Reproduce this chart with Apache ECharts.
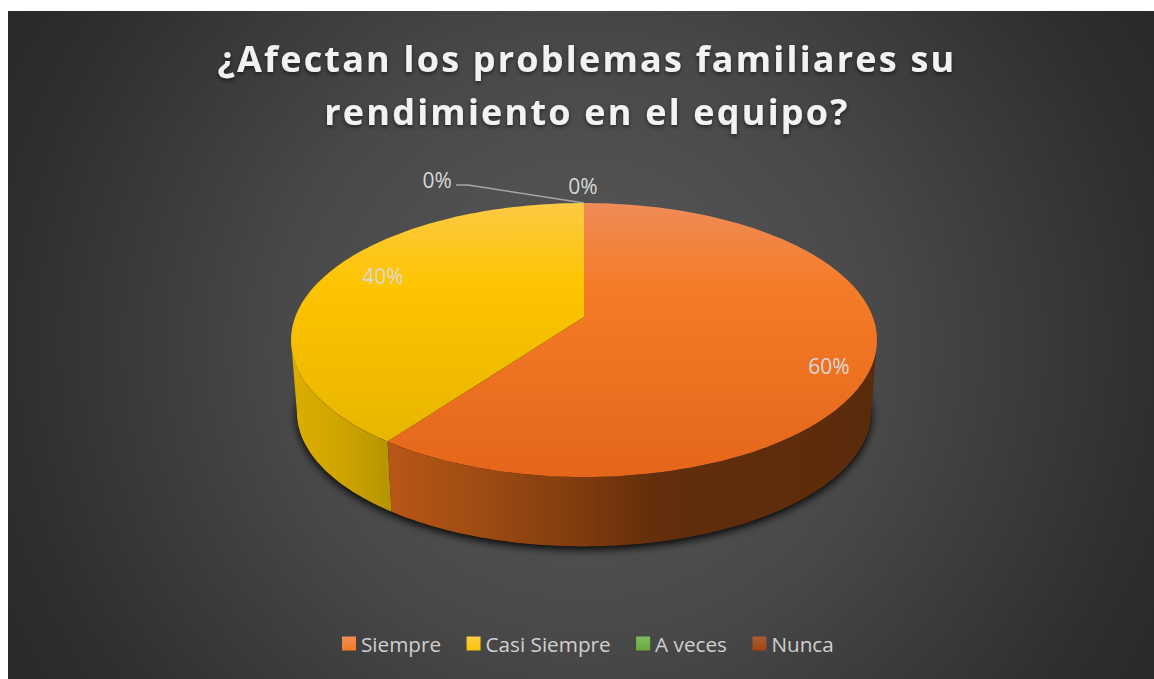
<!DOCTYPE html>
<html lang="es">
<head>
<meta charset="utf-8">
<title>Rendimiento en el equipo</title>
<script src="https://cdn.jsdelivr.net/npm/echarts@6/dist/echarts.min.js"></script>
<style>
  html, body { margin: 0; padding: 0; background: #fff; }
  #chart { width: 1154px; height: 679px; }
  /* The heading is the only bold text and is tracked out */
  svg text[style*="bold"] { letter-spacing: 2.2px; }
</style>
</head>
<body>
<div id="chart"></div>
<script>
const titleText = '¿Afectan los problemas familiares su\nrendimiento en el equipo?';
const categories = ['Siempre', 'Casi Siempre', 'A veces', 'Nunca'];
const values = [60, 40, 0, 0];

const legendFills = [
  ['#f08c58', '#f47a26'],
  ['#fdcb47', '#fdc400'],
  ['#82bb62', '#69a73c'],
  ['#ab5c36', '#a2440f']
];
const topFaceStops = [
  [[0, '#ef8c58'], [0.3, '#f47c28'], [1, '#e5661a']],
  [[0, '#fdca45'], [0.3, '#fdc400'], [1, '#e3b200']],
  [[0, '#82bb62'], [1, '#69a73c']],
  [[0, '#ab5c36'], [1, '#a2440f']]
];
const sideStops = [
  [[0, '#b85717'], [0.2, '#9c4b12'], [0.42, '#7b390c'], [0.55, '#622e0c'], [1, '#5a2b0b']],
  [[0, '#dcae00'], [0.5, '#cfa400'], [1, '#b59400']],
  [[0, '#69a73c'], [1, '#4f7e2d']],
  [[0, '#a2440f'], [1, '#5a2b0b']]
];
// Label anchors in disc coordinates, x to the right and y toward the viewer
const labelSpots = [[0.799, 0.347], [-0.734, -0.325], [-0.615, -1.244], [-0.004, -1.179]];

// Disc seen in perspective: a unit circle through a projective map
const view = { cx: 584, cy: 317, a: 288.8, b: 133.1, k: 0.168, wallCy: 389.6, wallScale: 0.98 };

function project(deg, lower) {
  const t = deg * Math.PI / 180;
  return discPoint(Math.sin(t), -Math.cos(t), lower);
}
function discPoint(u, v, lower) {
  const s = lower ? view.wallScale : 1;
  const d = 1 - view.k * v;
  return [view.cx + s * view.a * u / d, (lower ? view.wallCy : view.cy) + s * view.b * v / d];
}
function arc(from, to, lower) {
  const n = Math.max(2, Math.ceil(Math.abs(to - from) / 1.5));
  const pts = [];
  for (let i = 0; i <= n; i++) pts.push(project(from + (to - from) * i / n, lower));
  return pts;
}

const total = values.reduce((a, b) => a + b, 0);
const sliceStart = values.map((_, i) => values.slice(0, i).reduce((a, b) => a + b, 0) / total * 360);
// The outline of the disc is widest where the viewing ray grazes it
const silhouette = Math.acos(-view.k) * 180 / Math.PI;

function renderSlice(index) {
  return function () {
    const kids = [];
    const start = sliceStart[index];
    const end = start + values[index] / total * 360;
    if (index === 0) {
      kids.push({
        type: 'polygon', shape: { points: arc(0, 360, true) },
        style: { fill: '#111', shadowBlur: 9, shadowColor: 'rgba(0,0,0,0.95)', shadowOffsetY: 3 }
      });
    }
    if (values[index] > 0) {
      // Only the part of the wall facing the viewer is drawn
      const wallFrom = Math.max(start, silhouette);
      const wallTo = Math.min(end, 360 - silhouette);
      if (wallTo > wallFrom) {
        const upper = arc(wallFrom, wallTo, false);
        const lower = arc(wallTo, wallFrom, true);
        const xs = upper.concat(lower).map(p => p[0]);
        const stops = sideStops[index].map(s => ({ offset: s[0], color: s[1] }));
        kids.push({
          type: 'polygon', shape: { points: upper.concat(lower) },
          style: { fill: new echarts.graphic.LinearGradient(Math.min(...xs), 0, Math.max(...xs), 0, stops, true) }
        });
      }
      const face = [[view.cx, view.cy]].concat(arc(start, end, false));
      kids.push({
        type: 'polygon', shape: { points: face },
        style: {
          fill: new echarts.graphic.LinearGradient(0, 203, 0, 477,
            topFaceStops[index].map(s => ({ offset: s[0], color: s[1] })), true)
        }
      });
    }
    if (index === 2) {
      // Leader from the crowded zero slice out to its label
      const tip = project(sliceStart[index], false);
      kids.push({
        type: 'polyline',
        shape: { points: [[456, 185], [468, 185], tip] },
        style: { fill: null, stroke: '#a6a6a6', lineWidth: 1.4 }
      });
    }
    const spot = discPoint(labelSpots[index][0], labelSpots[index][1], false);
    kids.push({
      type: 'text',
      style: {
        x: spot[0], y: spot[1],
        text: Math.round(values[index] / total * 100) + '%',
        align: 'center', verticalAlign: 'middle',
        fill: '#d9d9d9', font: '21px "Open Sans"'
      }
    });
    return { type: 'group', children: kids };
  };
}

const chart = echarts.init(document.getElementById('chart'), null, { renderer: 'svg' });
chart.setOption({
  animation: false,
  backgroundColor: '#ffffff',
  graphic: [{
    type: 'rect', z: -10, silent: true,
    shape: { x: 8, y: 11, width: 1146, height: 668 },
    style: {
      fill: new echarts.graphic.RadialGradient(584, 345, 680, [
        { offset: 0, color: '#5a5a5a' },
        { offset: 0.45, color: '#484848' },
        { offset: 0.6, color: '#3e3e3e' },
        { offset: 0.85, color: '#2e2e2e' },
        { offset: 1, color: '#282828' }
      ], true)
    }
  }],
  title: {
    text: titleText,
    left: 582, top: 27, textAlign: 'center',
    textStyle: {
      fontFamily: '"Open Sans"', fontWeight: 'bold', fontSize: 36, lineHeight: 53,
      color: '#f2f2f2',
      textShadowColor: 'rgba(0,0,0,0.55)', textShadowBlur: 4, textShadowOffsetY: 2
    }
  },
  legend: {
    left: 342, top: 633, padding: 0, icon: 'rect', itemWidth: 14, itemHeight: 14, itemGap: 25.5,
    textStyle: { fontFamily: '"Open Sans"', fontSize: 20.7, color: '#d0d0d0', padding: [0, 0, 0, 0] },
    data: categories.map((name, i) => ({
      name,
      itemStyle: {
        color: new echarts.graphic.LinearGradient(0, 0, 0, 1, [
          { offset: 0, color: legendFills[i][0] }, { offset: 1, color: legendFills[i][1] }
        ])
      }
    }))
  },
  series: categories.map((name, i) => ({
    type: 'custom',
    name,
    coordinateSystem: 'none',
    silent: true,
    data: [[values[i]]],
    renderItem: renderSlice(i)
  }))
});
</script>
</body>
</html>
